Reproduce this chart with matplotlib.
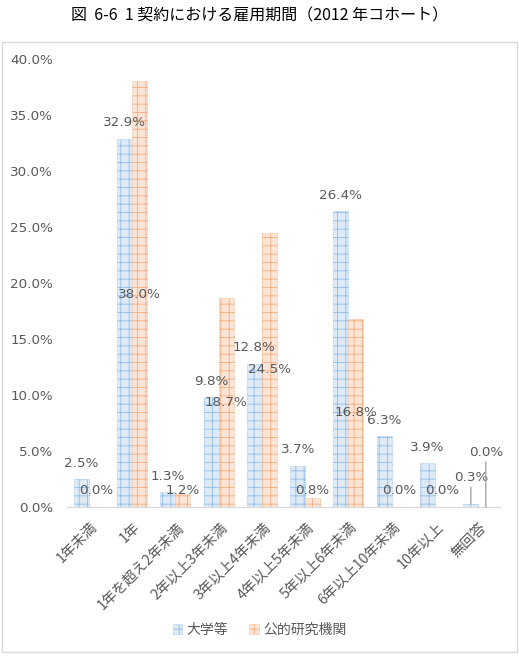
import matplotlib
matplotlib.use("Agg")
import matplotlib.pyplot as plt
import matplotlib.patches as mpatches
import numpy as np

plt.rcParams['font.family'] = ['Noto Sans CJK JP', 'DejaVu Sans']
plt.rcParams['hatch.linewidth'] = 0.6

# data
categories = ['1年未満', '1年', '1年を超え2年未満', '2年以上3年未満', '3年以上4年未満',
              '4年以上5年未満', '5年以上6年未満', '6年以上10年未満', '10年以上', '無回答']
univ = [2.5, 32.9, 1.3, 9.8, 12.8, 3.7, 26.4, 6.3, 3.9, 0.3]
public = [0.0, 38.0, 1.2, 18.7, 24.5, 0.8, 16.8, 0.0, 0.0, 0.0]
series_names = ['大学等', '公的研究機関']
yticks = [0, 5, 10, 15, 20, 25, 30, 35, 40]

# labels that were moved by hand (category index -> label height)
univ_moved = {9: 2.6}
public_moved = {9: 4.85}

W, H = 519, 656
fig = plt.figure(figsize=(W / 100, H / 100), dpi=100)
ax = fig.add_axes([67 / W, 149 / H, 433 / W, 448 / H])

blue_fill, blue_hatch = '#deebf7', '#8fbbe6'
orange_fill, orange_hatch = '#fce4d6', '#f4ac7c'

x = np.arange(len(categories))
bw = 0.346
b1 = ax.bar(x - bw / 2, univ, bw, color=blue_fill, edgecolor=blue_hatch,
            hatch='++', linewidth=0.6, linestyle=':')
b2 = ax.bar(x + bw / 2, public, bw, color=orange_fill, edgecolor=orange_hatch,
            hatch='++', linewidth=0.6, linestyle=':')

ax.set_xlim(-0.5, len(categories) - 0.5)
ax.set_ylim(0, 40)
ax.set_yticks(yticks)
ax.set_yticklabels([f'{t:.1f}%' for t in yticks], family='DejaVu Sans',
                   fontsize=9.7, color='#595959')
ax.tick_params(axis='y', length=0, pad=10)
ax.set_xticks([])
for i, c in enumerate(categories):
    ax.annotate(c, xy=(x[i], 0), xycoords=('data', 'axes fraction'),
                xytext=(4.5, -13), textcoords='offset points', rotation=45,
                ha='right', va='center', rotation_mode='anchor',
                fontsize=10.3, color='#595959')
for s in ['top', 'right', 'left']:
    ax.spines[s].set_visible(False)
ax.spines['bottom'].set_color('#d9d9d9')

lab_kw = dict(ha='center', va='center', fontsize=9.7, color='#595959',
              family='DejaVu Sans')
line_kw = dict(arrowstyle='-', color='#a6a6a6', lw=1, shrinkA=0, shrinkB=0)
for i, v in enumerate(univ):
    xi = x[i] - bw / 2
    if i in univ_moved:
        ax.annotate(f'{v:.1f}%', xy=(xi, v), xytext=(xi, univ_moved[i]),
                    arrowprops=line_kw, **lab_kw)
    else:
        ax.annotate(f'{v:.1f}%', xy=(xi, v), xytext=(0, 11.5),
                    textcoords='offset points', **lab_kw)
for i, v in enumerate(public):
    xi = x[i] + bw / 2
    if i in public_moved:
        ax.annotate(f'{v:.1f}%', xy=(xi, v), xytext=(xi, public_moved[i]),
                    arrowprops=line_kw, **lab_kw)
    else:
        ax.text(xi, max(v / 2, 1.5), f'{v:.1f}%', **lab_kw)

fig.text(0.5, 1 - 16 / H, '図  6-6  1 契約における雇用期間（2012 年コホート）',
         ha='center', va='center', fontsize=11.5, color='#000000')

fig.legend([b1, b2], series_names, loc='center', bbox_to_anchor=(0.5, 1 - 630 / H),
           ncol=2, frameon=False, fontsize=10, labelcolor='#595959',
           handlelength=0.7, handleheight=0.7, handletextpad=0.3, columnspacing=1.5)

fig.patches.append(mpatches.Rectangle((2 / W, 1 - 652 / H), 515 / W, 610 / H,
                                      transform=fig.transFigure, fill=False,
                                      edgecolor='#d9d9d9', linewidth=1))

fig.savefig('out.png', dpi=100)
